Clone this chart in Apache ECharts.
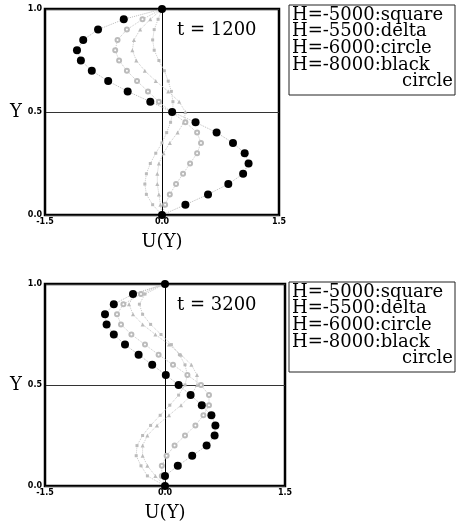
<!DOCTYPE html>
<html>
<head>
<meta charset="utf-8">
<script src="https://cdn.jsdelivr.net/npm/echarts@6/dist/echarts.min.js"></script>
<style>
  html, body { margin: 0; padding: 0; background: #fff; }
  #chart { width: 466px; height: 526px; }
</style>
</head>
<body>
<div id="chart"></div>
<script>
// Y positions of the profile points (top to bottom)
const yLevels = [1.0, 0.95, 0.9, 0.85, 0.8, 0.75, 0.7, 0.65, 0.6, 0.55, 0.5,
                 0.45, 0.4, 0.35, 0.3, 0.25, 0.2, 0.15, 0.1, 0.05, 0.0];

// t = 1200
const uSquare1200 = [0, -0.05, -0.1, -0.12, -0.1, -0.04, 0.03, 0.08, 0.12, 0.14, 0.14,
                     0.11, 0.06, 0.0, -0.08, -0.15, -0.2, -0.22, -0.2, -0.12, 0];
const uDelta1200  = [0, -0.15, -0.28, -0.36, -0.38, -0.33, -0.22, -0.08, 0.08, 0.22, 0.3,
                     0.28, 0.2, 0.1, 0.02, -0.04, -0.06, -0.06, -0.04, -0.02, 0];
const uCircle1200 = [0, -0.25, -0.45, -0.57, -0.6, -0.55, -0.45, -0.32, -0.18, -0.04, 0.12,
                     0.3, 0.45, 0.5, 0.45, 0.36, 0.27, 0.18, 0.1, 0.04, 0];
const uBlack1200  = [0, -0.49, -0.82, -1.01, -1.09, -1.04, -0.9, -0.69, -0.44, -0.15, 0.13,
                     0.43, 0.7, 0.91, 1.06, 1.11, 1.04, 0.85, 0.59, 0.3, 0];

// t = 3200
const uSquare3200 = [0, -0.25, -0.32, -0.28, -0.18, -0.05, 0.08, 0.18, 0.25, 0.28, 0.25,
                     0.17, 0.06, -0.06, -0.18, -0.28, -0.35, -0.36, -0.3, -0.22, 0];
const uDelta3200  = [0, -0.38, -0.45, -0.4, -0.28, -0.12, 0.05, 0.2, 0.33, 0.4, 0.4,
                     0.33, 0.2, 0.05, -0.1, -0.22, -0.28, -0.28, -0.22, -0.12, 0];
const uCircle3200 = [0, -0.3, -0.52, -0.6, -0.55, -0.42, -0.25, -0.08, 0.1, 0.28, 0.45,
                     0.55, 0.55, 0.48, 0.38, 0.25, 0.12, 0.02, -0.04, -0.04, 0];
const uBlack3200  = [0, -0.4, -0.64, -0.75, -0.73, -0.64, -0.5, -0.33, -0.16, 0.01, 0.17,
                     0.32, 0.46, 0.58, 0.63, 0.62, 0.52, 0.34, 0.16, 0.0, 0];

const times = ['t = 1200', 't = 3200'];
const legendLines = ['H=-5000:square', 'H=-5500:delta', 'H=-6000:circle', 'H=-8000:black'];

const serif = '"DejaVu Serif", "Liberation Serif", serif';

function pts(u) {
  return u.map(function (v, i) { return [v, yLevels[i]]; });
}

// 浅色点线（小记号）
function faint(u, idx, symbol, size) {
  return {
    type: 'line', xAxisIndex: idx, yAxisIndex: idx,
    data: pts(u), symbol: symbol, symbolSize: size,
    itemStyle: { color: '#bbb' },
    lineStyle: { color: '#c8c8c8', width: 1, type: 'dotted' },
    z: 3, animation: false
  };
}

// 黑色实心圆
function black(u, idx) {
  return {
    type: 'line', xAxisIndex: idx, yAxisIndex: idx,
    data: pts(u), symbol: 'circle', symbolSize: 8,
    itemStyle: { color: '#000' },
    lineStyle: { color: '#bbb', width: 1, type: 'dotted' },
    z: 5, animation: false
  };
}

const grids = [
  { left: 45, top: 9, width: 234, height: 206 },
  { left: 45, top: 284, width: 240, height: 202 }
];

function xAx(i) {
  return {
    gridIndex: i, type: 'value', min: -1.5, max: 1.5, interval: 1.5,
    name: 'U(Y)', nameLocation: 'middle', nameGap: 18,
    nameTextStyle: { fontFamily: serif, fontSize: 18, color: '#000' },
    axisLine: { show: false }, axisTick: { show: false },
    axisLabel: { margin: 3, fontSize: 8, fontWeight: 'bold', color: '#000',
      fontFamily: 'DejaVu Sans',
      formatter: function (v) { return v.toFixed(1); } },
    splitLine: { show: true, lineStyle: { color: '#000', width: 1 } }
  };
}

function yAx(i) {
  return {
    gridIndex: i, type: 'value', min: 0, max: 1, interval: 0.5,
    name: 'Y', nameLocation: 'middle', nameGap: 18, nameRotate: 0,
    nameTextStyle: { fontFamily: serif, fontSize: 18, color: '#000' },
    axisLine: { show: false }, axisTick: { show: false },
    axisLabel: { margin: 3, fontSize: 8, fontWeight: 'bold', color: '#000',
      fontFamily: 'DejaVu Sans',
      formatter: function (v) { return v.toFixed(1); } },
    splitLine: { show: true, lineStyle: { color: '#333', width: 1 } }
  };
}

const graphics = [];
[0, 1].forEach(function (i) {
  const off = i === 0 ? 0 : 277;
  graphics.push({ type: 'text', left: 177, top: (i === 0 ? 21 : 296),
    style: { text: times[i], font: '18px ' + serif, fill: '#000' } });
  graphics.push({ type: 'rect', shape: { x: 289, y: 5 + off, width: 166, height: 90 },
    style: { fill: 'none', stroke: '#222', lineWidth: 1 } });
  legendLines.forEach(function (t, k) {
    graphics.push({ type: 'text', x: 292, y: 15 + off + k * 16.7,
      style: { text: t, font: '18px ' + serif, fill: '#000', verticalAlign: 'middle' } });
  });
  graphics.push({ type: 'text', x: 453, y: 15 + off + 4 * 16.7,
    style: { text: 'circle', font: '18px ' + serif, fill: '#000',
      align: 'right', verticalAlign: 'middle' } });
});

const chart = echarts.init(document.getElementById('chart'));
chart.setOption({
  backgroundColor: '#fff',
  animation: false,
  grid: grids.map(function (g) {
    return Object.assign({ show: true, borderColor: '#000', borderWidth: 2.5 }, g);
  }),
  xAxis: [xAx(0), xAx(1)],
  yAxis: [yAx(0), yAx(1)],
  graphic: graphics,
  series: [
    faint(uSquare1200, 0, 'rect', 3),
    faint(uDelta1200, 0, 'triangle', 4),
    faint(uCircle1200, 0, 'emptyCircle', 4),
    black(uBlack1200, 0),
    faint(uSquare3200, 1, 'rect', 3),
    faint(uDelta3200, 1, 'triangle', 4),
    faint(uCircle3200, 1, 'emptyCircle', 4),
    black(uBlack3200, 1)
  ]
});
</script>
</body>
</html>
